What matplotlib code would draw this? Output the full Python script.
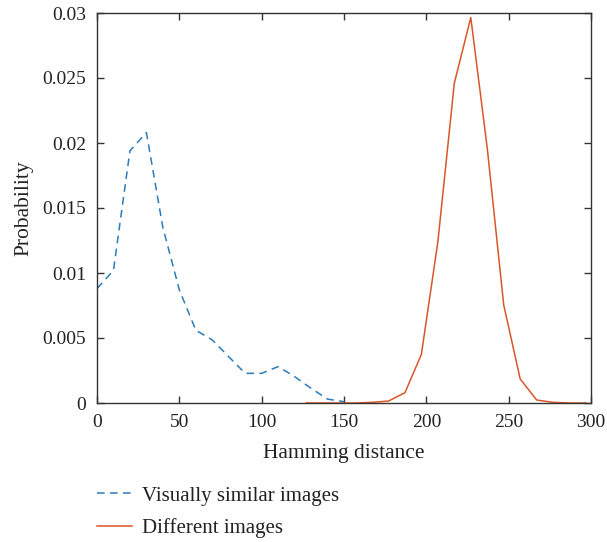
import matplotlib

matplotlib.use("Agg")
import matplotlib.pyplot as plt

plt.rcParams["font.family"] = ["Liberation Serif", "DejaVu Serif"]

# Hamming distance distributions
sim_x = [0, 10, 20, 30, 40, 50, 60, 70, 80, 90, 100, 110, 120, 130, 140, 150]
sim_p = [0.0088, 0.0102, 0.0194, 0.0208, 0.0135, 0.0087, 0.0056, 0.00485, 0.00356,
         0.00228, 0.00228, 0.0028, 0.00203, 0.00113, 0.0003, 0.0001]

diff_x = [127, 137, 147, 157, 167, 177, 187, 197, 207, 217, 227, 237, 247, 257,
          267, 277, 287, 297]
diff_p = [0.0, 0.0, 0.0, 0.0, 0.00005, 0.00015, 0.00079, 0.00374, 0.0124, 0.0246,
          0.02965, 0.0196, 0.00754, 0.00185, 0.00023, 0.00005, 0.0, 0.0]

x_ticks = [0, 50, 100, 150, 200, 250, 300]
y_ticks = [0, 0.005, 0.01, 0.015, 0.02, 0.025, 0.03]
y_labels = ["0", "0.005", "0.01", "0.015", "0.02", "0.025", "0.03"]

fig = plt.figure(figsize=(6.07, 5.42), dpi=100)
ax = fig.add_axes([97 / 607, 1 - 403 / 542, 494 / 607, 390 / 542])

ax.plot(sim_x, sim_p, color="#2b7bba", ls=(0, (5, 3.5)), lw=1.1,
        label="Visually similar images")
ax.plot(diff_x, diff_p, color="#d9562a", lw=1.1, label="Different images")

ax.set_xlim(0, 300)
ax.set_ylim(0, 0.03)
ax.set_xticks(x_ticks)
ax.set_yticks(y_ticks)
ax.set_yticklabels(y_labels)
ax.tick_params(direction="in", top=True, right=True, length=5, width=1,
               labelsize=14, colors="#333333", labelcolor="#222222")
ax.tick_params(axis="x", pad=8)
ax.tick_params(axis="y", pad=8)
for s in ax.spines.values():
    s.set_color("#333333")
    s.set_linewidth(1)

ax.set_xlabel("Hamming distance", fontsize=15.5, color="#222222", labelpad=9)
ax.set_ylabel("Probability", fontsize=15.5, color="#222222", labelpad=6)

fig.legend(loc="upper left", bbox_to_anchor=(97 / 607, 1 - 486 / 542),
           frameon=False, fontsize=15, handlelength=1.7, handletextpad=0.45,
           labelspacing=0.62, borderpad=0, borderaxespad=0,
           labelcolor="#222222")

fig.savefig("out.png", dpi=100)
